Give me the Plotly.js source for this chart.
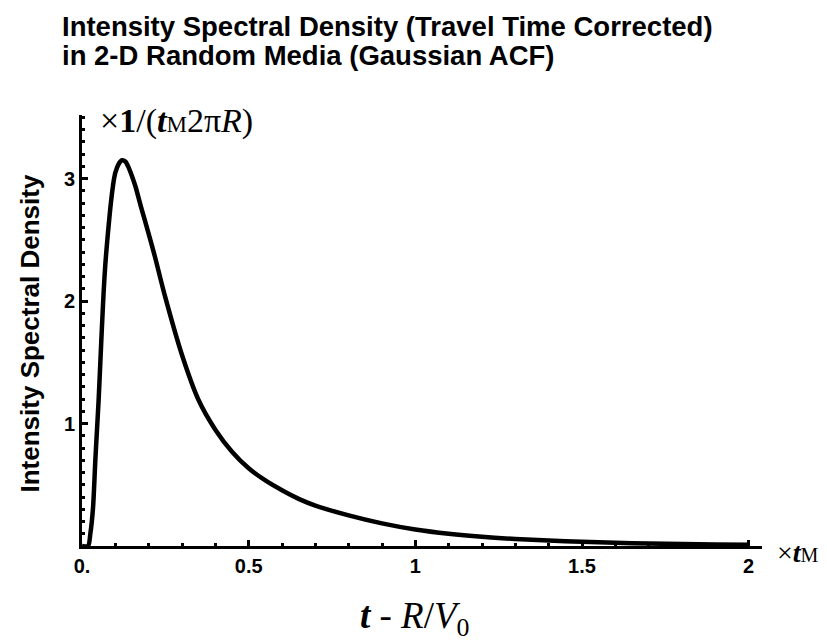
<!DOCTYPE html>
<html>
<head>
<meta charset="utf-8">
<script src="https://cdn.plot.ly/plotly-3.0.1.min.js"></script>
<style>html,body{margin:0;padding:0;background:#fff;}#chart{width:827px;height:644px;}</style>
</head>
<body>
<div id="chart"></div>
<script>
// Data
const timeValues = [0, 0.018, 0.025, 0.033, 0.04, 0.045, 0.05, 0.055, 0.06, 0.065, 0.07, 0.075, 0.08, 0.085, 0.09, 0.095, 0.1, 0.11, 0.12, 0.13, 0.14, 0.15, 0.16, 0.177, 0.2, 0.219, 0.25, 0.3, 0.35, 0.4, 0.45, 0.5, 0.55, 0.6, 0.65, 0.7, 0.8, 0.9, 1.0, 1.1, 1.2, 1.3, 1.4, 1.5, 1.6, 1.7, 1.8, 1.9, 2.0];
const densityValues = [0, 0, 0.1, 0.31, 0.7, 0.95, 1.2, 1.5, 1.8, 2.08, 2.3, 2.47, 2.62, 2.76, 2.88, 2.98, 3.05, 3.12, 3.15, 3.14, 3.09, 3.02, 2.94, 2.77, 2.55, 2.36, 2.03, 1.56, 1.19, 0.95, 0.77, 0.635, 0.535, 0.455, 0.385, 0.33, 0.25, 0.185, 0.135, 0.1, 0.075, 0.057, 0.044, 0.034, 0.026, 0.02, 0.016, 0.012, 0.01];
const xTickVals = [0, 0.5, 1, 1.5, 2];
const xTickText = ["0.", "0.5", "1", "1.5", "2"];
const yTickVals = [1, 2, 3];
const yTickText = ["1", "2", "3"];
const titleLines = ["Intensity Spectral Density (Travel Time Corrected)", "in 2-D Random Media (Gaussian ACF)"];
const yTitle = "Intensity Spectral Density";

const sans = "Liberation Sans, Arial, sans-serif";
const serif = "Liberation Serif, Times New Roman, serif";

const trace = {
  x: timeValues, y: densityValues, type: "scatter", mode: "lines",
  line: {color: "#000", width: 4.5, shape: "spline", smoothing: 0.8},
  hoverinfo: "skip"
};

const layout = {
  width: 827, height: 644,
  paper_bgcolor: "#fff", plot_bgcolor: "#fff",
  margin: {l: 82, r: 65, t: 115, b: 98},
  showlegend: false,
  xaxis: {
    range: [0, 2.04], showgrid: false, zeroline: false,
    showline: true, linecolor: "#000", linewidth: 3,
    ticks: "inside", ticklen: 6, tickwidth: 3, tickcolor: "#000",
    tickvals: xTickVals, ticktext: xTickText,
    tickfont: {family: sans, size: 20, color: "#000", weight: "bold"},
    minor: {dtick: 0.1, tick0: 0, ticks: "inside", ticklen: 3, tickwidth: 3, tickcolor: "#000"}
  },
  yaxis: {
    range: [0, 3.52], showgrid: false, zeroline: false,
    showline: true, linecolor: "#000", linewidth: 3,
    ticks: "inside", ticklen: 6, tickwidth: 3, tickcolor: "#000",
    tickvals: yTickVals, ticktext: yTickText,
    tickfont: {family: sans, size: 20, color: "#000", weight: "bold"},
    minor: {dtick: 0.1, tick0: 0, ticks: "inside", ticklen: 3, tickwidth: 3, tickcolor: "#000"}
  },
  annotations: [
    {xref: "paper", yref: "paper", x: 0, y: 1, xshift: -22, yshift: 89, xanchor: "left", yanchor: "middle",
     text: "<b>" + titleLines[0] + "</b>", showarrow: false,
     font: {family: sans, size: 27.5, color: "#000"}},
    {xref: "paper", yref: "paper", x: 0, y: 1, xshift: -22, yshift: 60, xanchor: "left", yanchor: "middle",
     text: "<b>" + titleLines[1] + "</b>", showarrow: false,
     font: {family: sans, size: 27.5, color: "#000"}},
    {xref: "paper", yref: "paper", x: 0, y: 0.5, xshift: -53, yshift: -3, xanchor: "center", yanchor: "middle",
     textangle: -90, text: "<b>" + yTitle + "</b>", showarrow: false,
     font: {family: sans, size: 26, color: "#000"}},
    {xref: "paper", yref: "paper", x: 0, y: 1, xshift: 16, yshift: -6, xanchor: "left", yanchor: "middle",
     text: "×<b>1</b>/(<b><i>t</i></b><span style='font-size:23px'>M</span>2π<i>R</i>)", showarrow: false,
     font: {family: serif, size: 34, color: "#000"}},
    {xref: "paper", yref: "paper", x: 1, y: 0, xshift: 13, yshift: -6, xanchor: "left", yanchor: "middle",
     text: "×<b><i>t</i></b><span style='font-size:20px'>M</span>", showarrow: false,
     font: {family: serif, size: 28, color: "#000"}},
    {xref: "paper", yref: "paper", x: 0.49, y: 0, yshift: -72, xanchor: "center", yanchor: "middle",
     text: "<b><i>t</i></b>\u00a0-\u00a0<i>R</i>/<i>V</i><sub>0</sub>", showarrow: false,
     font: {family: serif, size: 37, color: "#000"}}
  ]
};

Plotly.newPlot("chart", [trace], layout, {displayModeBar: false, staticPlot: true});
</script>
</body>
</html>
